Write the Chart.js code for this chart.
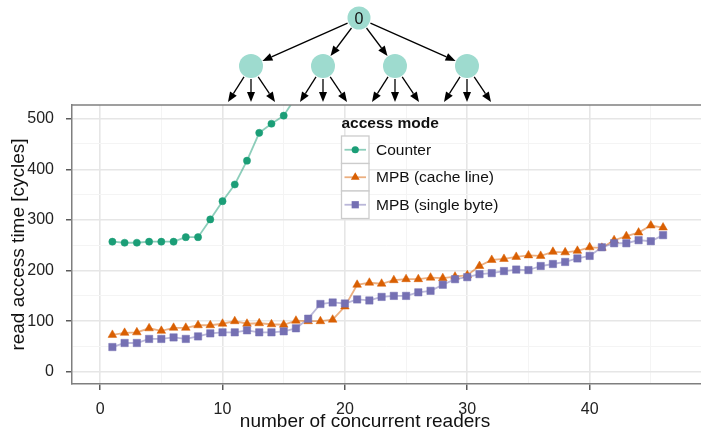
<!DOCTYPE html>
<html>
<head>
<meta charset="utf-8">
<title>read access time</title>
<script src="https://cdn.jsdelivr.net/npm/chart.js@4.4.1/dist/chart.umd.min.js"></script>
<style>
  html, body { margin: 0; padding: 0; background: #fff; }
  #wrap { position: relative; width: 701px; height: 430px; }
  #readChart { position: absolute; left: 0; top: 0; }
  #tree { position: absolute; left: 0; top: 0; }
</style>
</head>
<body>
<div id="wrap">
  <canvas id="readChart" width="701" height="430"></canvas>
  <svg id="tree" width="701" height="106" xmlns="http://www.w3.org/2000/svg"></svg>
</div>
<script>
// number of concurrent readers
const readers = [1, 2, 3, 4, 5, 6, 7, 8, 9, 10, 11, 12, 13, 14, 15, 16, 17, 18, 19, 20, 21, 22, 23,
  24, 25, 26, 27, 28, 29, 30, 31, 32, 33, 34, 35, 36, 37, 38, 39, 40, 41, 42, 43, 44, 45, 46];

// read access time [cycles]
const counterCycles = [257, 255, 255, 257, 257, 257, 266, 266, 301, 337, 370, 417, 472, 490, 506, 543];
const cacheLineCycles = [73, 77, 78, 86, 81, 87, 87, 92, 92, 95, 100, 95, 96, 94, 93, 101, 100, 100, 103, 129,
  172, 176, 174, 181, 183, 183, 186, 185, 188, 191, 209, 221, 223, 227, 230, 229, 237, 236, 239, 246,
  245, 260, 268, 275, 289, 285];
const singleByteCycles = [49, 57, 57, 65, 65, 68, 65, 70, 76, 78, 78, 82, 78, 78, 80, 86, 105, 134, 137, 135,
  143, 141, 148, 150, 150, 157, 160, 172, 183, 187, 193, 195, 199, 202, 201, 209, 213, 217, 224, 229,
  246, 254, 254, 260, 258, 270];

const seriesNames = ['Counter', 'MPB (cache line)', 'MPB (single byte)'];

// axis ticks (major carry labels, minor only grid)
const xMajorTicks = [0, 10, 20, 30, 40];
const xMinorTicks = [5, 15, 25, 35, 45];
const yMajorTicks = [0, 100, 200, 300, 400, 500];
const yMinorTicks = [50, 150, 250, 350, 450];

const FONT = '"Liberation Sans", Arial, Helvetica, sans-serif';
const colors = {
  green: '#1b9e77', greenLine: 'rgba(27,158,119,0.5)',
  orange: '#d95f02', orangeLine: 'rgba(217,95,2,0.5)',
  purple: '#7570b3', purpleLine: 'rgba(117,112,179,0.5)'
};

function toPoints(values) {
  return values.map((v, i) => ({ x: readers[i], y: v }));
}

function tickList(major, minor) {
  return major.concat(minor).sort((a, b) => a - b).map(v => ({ value: v }));
}

function gridStyle(major) {
  return {
    color: ctx => major.includes(ctx.tick.value) ? '#e6e6e6' : '#f4f4f4',
    lineWidth: ctx => major.includes(ctx.tick.value) ? 1.6 : 1,
    tickColor: ctx => major.includes(ctx.tick.value) ? '#333' : 'rgba(0,0,0,0)',
    tickLength: 6,
    tickWidth: 1.2
  };
}

// panel top rule, axis titles and the legend
const panelDecor = {
  id: 'panelDecor',
  afterDraw(chart) {
    const { ctx, chartArea } = chart;
    ctx.save();
    ctx.strokeStyle = '#7f7f7f';
    ctx.lineWidth = 1.5;
    ctx.beginPath();
    ctx.moveTo(chartArea.left, chartArea.top);
    ctx.lineTo(chartArea.right, chartArea.top);
    ctx.stroke();

    ctx.fillStyle = '#111';
    ctx.font = '19px ' + FONT;
    ctx.textAlign = 'center';
    ctx.textBaseline = 'alphabetic';
    ctx.fillText('number of concurrent readers', 365, 427);

    ctx.save();
    ctx.translate(23.5, (chartArea.top + chartArea.bottom) / 2);
    ctx.rotate(-Math.PI / 2);
    ctx.fillText('read access time [cycles]', 0, 0);
    ctx.restore();

    // legend
    ctx.textAlign = 'left';
    ctx.font = 'bold 15.5px ' + FONT;
    ctx.fillText('access mode', 341.5, 127.5);

    const keys = [
      { fill: colors.green, line: colors.greenLine, shape: 'circle' },
      { fill: colors.orange, line: colors.orangeLine, shape: 'triangle' },
      { fill: colors.purple, line: colors.purpleLine, shape: 'square' }
    ];
    const boxX = 341.5, boxW = 27.5, boxH = 27.5;
    keys.forEach((k, i) => {
      const top = 136 + i * boxH;
      const cy = top + boxH / 2;
      const cx = boxX + boxW / 2;
      ctx.fillStyle = '#fff';
      ctx.fillRect(boxX, top, boxW, boxH);
      ctx.strokeStyle = '#cccccc';
      ctx.lineWidth = 1.3;
      ctx.strokeRect(boxX, top, boxW, boxH);

      ctx.strokeStyle = k.line;
      ctx.lineWidth = 1.8;
      ctx.beginPath();
      ctx.moveTo(boxX + 3, cy);
      ctx.lineTo(boxX + boxW - 3, cy);
      ctx.stroke();

      ctx.fillStyle = k.fill;
      ctx.beginPath();
      if (k.shape === 'circle') {
        ctx.arc(cx, cy, 3.6, 0, Math.PI * 2);
      } else if (k.shape === 'triangle') {
        ctx.moveTo(cx, cy - 5);
        ctx.lineTo(cx + 4.4, cy + 2.6);
        ctx.lineTo(cx - 4.4, cy + 2.6);
        ctx.closePath();
      } else {
        ctx.rect(cx - 3.6, cy - 3.6, 7.2, 7.2);
      }
      ctx.fill();

      ctx.fillStyle = '#111';
      ctx.font = '15.5px ' + FONT;
      ctx.textBaseline = 'middle';
      ctx.fillText(seriesNames[i], 376, cy + 0.5);
      ctx.textBaseline = 'alphabetic';
    });
    ctx.restore();
  }
};

new Chart(document.getElementById('readChart'), {
  type: 'line',
  data: {
    datasets: [
      {
        label: seriesNames[0],
        data: toPoints(counterCycles),
        borderColor: colors.greenLine,
        backgroundColor: colors.green,
        pointBackgroundColor: colors.green,
        pointBorderColor: colors.green,
        pointStyle: 'circle',
        pointRadius: 3.6,
        pointBorderWidth: 0.5,
        borderWidth: 1.8,
        clip: 0,
        order: 2
      },
      {
        label: seriesNames[1],
        data: toPoints(cacheLineCycles),
        borderColor: colors.orangeLine,
        backgroundColor: colors.orange,
        pointBackgroundColor: colors.orange,
        pointBorderColor: colors.orange,
        pointStyle: 'triangle',
        pointRadius: 5,
        pointBorderWidth: 0.5,
        borderWidth: 1.8,
        clip: 0,
        order: 1
      },
      {
        label: seriesNames[2],
        data: toPoints(singleByteCycles),
        borderColor: colors.purpleLine,
        backgroundColor: colors.purple,
        pointBackgroundColor: colors.purple,
        pointBorderColor: colors.purple,
        pointStyle: 'rect',
        pointRadius: 5.2,
        pointBorderWidth: 0.5,
        borderWidth: 1.8,
        clip: 0,
        order: 0
      }
    ]
  },
  options: {
    responsive: false,
    animation: false,
    layout: { autoPadding: false, padding: { top: 105, left: 0, right: 0, bottom: 0 } },
    plugins: { legend: { display: false }, tooltip: { enabled: false } },
    scales: {
      x: {
        type: 'linear',
        min: -2.3,
        max: 49.1,
        afterBuildTicks: s => { s.ticks = tickList(xMajorTicks, xMinorTicks); },
        afterFit: s => { s.height = 46; },
        grid: gridStyle(xMajorTicks),
        border: { color: '#7f7f7f', width: 1.5 },
        ticks: {
          autoSkip: false,
          maxRotation: 0,
          padding: 10,
          color: '#222',
          font: { family: FONT, size: 16 },
          callback: v => xMajorTicks.includes(v) ? String(v) : ''
        }
      },
      y: {
        type: 'linear',
        min: -24,
        max: 527,
        afterBuildTicks: s => { s.ticks = tickList(yMajorTicks, yMinorTicks); },
        afterFit: s => { s.width = 72; },
        grid: gridStyle(yMajorTicks),
        border: { color: '#7f7f7f', width: 1.5 },
        ticks: {
          autoSkip: false,
          padding: 12,
          color: '#222',
          font: { family: FONT, size: 16 },
          callback: v => yMajorTicks.includes(v) ? String(v) : ''
        }
      }
    }
  },
  plugins: [panelDecor]
});

// tree sketch above the panel: one root fanning out to four nodes
const svgNS = 'http://www.w3.org/2000/svg';
const tree = document.getElementById('tree');
const nodeFill = '#9edbcf';
const rootNode = { x: 359, y: 18, r: 11.5 };
const childXs = [251, 323, 395, 467];
const childY = 66, childR = 12;
const leafOffsets = [-23, 0, 24];
const leafY = 102;

function svgEl(name, attrs) {
  const el = document.createElementNS(svgNS, name);
  Object.keys(attrs).forEach(k => el.setAttribute(k, attrs[k]));
  tree.appendChild(el);
  return el;
}

function arrow(x1, y1, x2, y2) {
  const len = Math.hypot(x2 - x1, y2 - y1);
  const ux = (x2 - x1) / len, uy = (y2 - y1) / len;
  const bx = x2 - ux * 10, by = y2 - uy * 10;
  svgEl('line', { x1, y1, x2: bx, y2: by, stroke: '#000', 'stroke-width': 1.3 });
  svgEl('path', {
    d: `M${x2},${y2} L${bx - uy * 4},${by + ux * 4} L${bx + uy * 4},${by - ux * 4} Z`,
    fill: '#000'
  });
}

childXs.forEach(cx => {
  const dx = cx - rootNode.x, dy = childY - rootNode.y;
  const d = Math.hypot(dx, dy);
  arrow(rootNode.x + dx / d * (rootNode.r + 1), rootNode.y + dy / d * (rootNode.r + 1),
        cx - dx / d * (childR + 0.5), childY - dy / d * (childR + 0.5));
  leafOffsets.forEach(off => {
    const tx = cx + off;
    const ex = tx - cx, ey = leafY - childY;
    const e = Math.hypot(ex, ey);
    arrow(cx + ex / e * (childR + 1), childY + ey / e * (childR + 1), tx, leafY);
  });
});

svgEl('circle', { cx: rootNode.x, cy: rootNode.y, r: rootNode.r, fill: nodeFill });
childXs.forEach(cx => svgEl('circle', { cx, cy: childY, r: childR, fill: nodeFill }));
const label = svgEl('text', {
  x: rootNode.x, y: rootNode.y + 5.5, 'text-anchor': 'middle',
  'font-family': 'Liberation Sans, Arial, sans-serif', 'font-size': 16, fill: '#111'
});
label.textContent = '0';
</script>
</body>
</html>
